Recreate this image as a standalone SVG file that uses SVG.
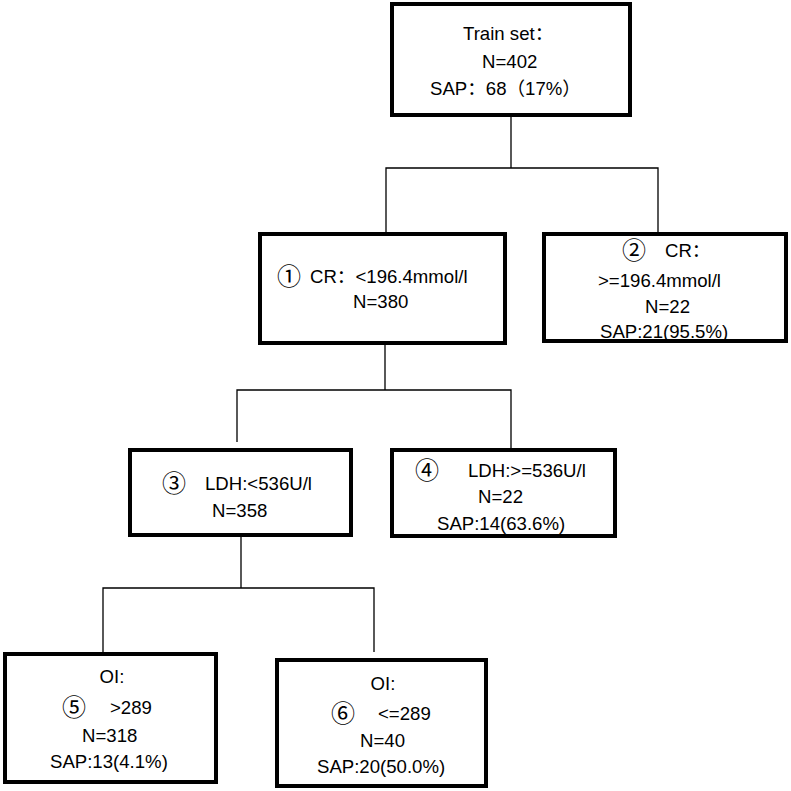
<svg xmlns="http://www.w3.org/2000/svg" width="791" height="791" viewBox="0 0 791 791">
<style>
.box{fill:#fff;stroke:#000;stroke-width:4}
.ln{fill:none;stroke:#000;stroke-width:1.3}
text{font-family:"Liberation Sans","Noto Sans CJK SC",sans-serif;font-size:18.6px;fill:#000}
.c{font-family:"DejaVu Serif","Noto Sans CJK SC",serif;font-size:24px}
.m{text-anchor:middle}
</style>
<rect width="791" height="791" fill="#fff"/>
<g id="connectors">
<path class="ln" d="M511,117V168M386,232V168H658V232"/>
<path class="ln" d="M385,345V390M237,442V390H511V448"/>
<path class="ln" d="M241,537V588M103,652V588H374V652"/>
</g>
<g id="root">
<rect class="box" x="392" y="4" width="238" height="111"/>
<text x="463" y="40">Train set：</text>
<text x="482" y="68">N=402</text>
<text x="430" y="95">SAP：68（17%）</text>
</g>
<g id="node1">
<rect class="box" x="260" y="234" width="245" height="109"/>
<text class="c" x="277" y="285">①</text>
<text x="310" y="283">CR：&lt;196.4mmol/l</text>
<text x="353" y="308">N=380</text>
</g>
<g id="node2">
<rect class="box" x="544" y="234" width="242" height="107"/>
<text class="c" x="622" y="259">②</text>
<text x="665" y="257">CR：</text>
<text x="598" y="287">&gt;=196.4mmol/l</text>
<text x="645" y="313">N=22</text>
<text x="600" y="338">SAP:21(95.5%)</text>
</g>
<g id="node3">
<rect class="box" x="130" y="450" width="221" height="85"/>
<text class="c" x="162" y="492">③</text>
<text x="205" y="490">LDH:&lt;536U/l</text>
<text x="212" y="517">N=358</text>
</g>
<g id="node4">
<rect class="box" x="392" y="450" width="223" height="86"/>
<text class="c" x="415" y="479">④</text>
<text x="468" y="477">LDH:&gt;=536U/l</text>
<text x="478" y="503">N=22</text>
<text x="437" y="530">SAP:14(63.6%)</text>
</g>
<g id="node5">
<rect class="box" x="5" y="654" width="211" height="128"/>
<text class="m" x="112" y="683">OI:</text>
<text class="c" x="62" y="716">⑤</text>
<text x="110" y="714">&gt;289</text>
<text x="82" y="742">N=318</text>
<text x="50" y="768">SAP:13(4.1%)</text>
</g>
<g id="node6">
<rect class="box" x="277" y="660" width="209" height="126"/>
<text class="m" x="383" y="690">OI:</text>
<text class="c" x="331" y="722">⑥</text>
<text x="378" y="720">&lt;=289</text>
<text x="360" y="747">N=40</text>
<text x="317" y="773">SAP:20(50.0%)</text>
</g>
</svg>
